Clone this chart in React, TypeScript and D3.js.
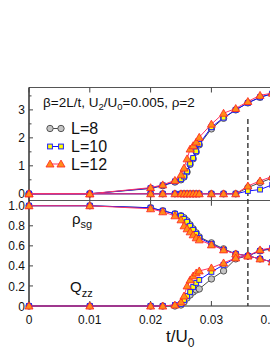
import React, { useEffect, useRef } from 'react';
import * as d3 from 'd3';

// hopping t/U0 values shared by all system sizes
const tVals = [0, 0.01, 0.02, 0.022, 0.024, 0.025, 0.0255, 0.026, 0.0265, 0.027, 0.0275, 0.028, 0.03, 0.032, 0.034, 0.036, 0.038, 0.04];

// top panel, upper curve
const upper8 = [0, 0, 0.19, 0.29, 0.42, 0.5, 0.6, 0.78, 1.05, 1.25, 1.5, 1.75, 2.32, 2.7, 3.0, 3.25, 3.45, 3.58];
const upper10 = [0, 0, 0.2, 0.3, 0.44, 0.52, 0.62, 0.8, 1.08, 1.28, 1.52, 1.78, 2.38, 2.72, 3.0, 3.25, 3.45, 3.58];
const upper12 = [0, 0, 0.22, 0.32, 0.48, 0.68, 0.92, 1.25, 1.6, 1.72, 1.85, 2.02, 2.49, 2.88, 3.05, 3.3, 3.52, 3.6];

// top panel, lower curve
const lower8 = [0, 0, 0, 0, 0, 0, 0, 0, 0, 0, 0, 0, 0, 0, 0, 0.22, 0.4, 0.56];
const lower10 = [0, 0, 0, 0, 0, 0, 0, 0, 0, 0, 0, 0, 0, 0, 0, 0.1, 0.15, 0.32];
const lower12 = [0, 0, 0, 0, 0, 0, 0, 0, 0, 0, 0, 0, 0, 0, 0, 0.28, 0.46, 0.62];

// bottom panel
const rhoSg8 = [1, 1, 0.98, 0.95, 0.92, 0.9, 0.88, 0.85, 0.81, 0.77, 0.73, 0.69, 0.63, 0.57, 0.52, 0.5, 0.47, 0.44];
const rhoSg10 = [1, 1, 0.98, 0.95, 0.92, 0.9, 0.87, 0.84, 0.8, 0.76, 0.72, 0.68, 0.62, 0.56, 0.52, 0.5, 0.47, 0.44];
const rhoSg12 = [1, 1, 0.97, 0.94, 0.9, 0.86, 0.8, 0.77, 0.74, 0.71, 0.68, 0.66, 0.61, 0.56, 0.52, 0.5, 0.47, 0.44];

const qzz8 = [0, 0, 0, 0, 0, 0.01, 0.04, 0.08, 0.11, 0.14, 0.16, 0.17, 0.27, 0.35, 0.47, 0.5, 0.55, 0.57];
const qzz10 = [0, 0, 0, 0, 0.01, 0.02, 0.06, 0.1, 0.14, 0.19, 0.23, 0.26, 0.34, 0.41, 0.48, 0.5, 0.55, 0.58];
const qzz12 = [0, 0, 0, 0, 0.01, 0.04, 0.1, 0.2, 0.26, 0.3, 0.33, 0.35, 0.38, 0.43, 0.48, 0.5, 0.56, 0.58];

const xTicks = [0, 0.01, 0.02, 0.03, 0.04];
const xTickLabels = ['0', '0.01', '0.02', '0.03', '0.04'];
const topTicks = [0, 1, 2, 3];
const topMinor = [0.5, 1.5, 2.5, 3.5];
const botTicks = [0, 0.2, 0.4, 0.6, 0.8, 1.0];
const botTickLabels = ['0', '0.2', '0.4', '0.6', '0.8', '1.0'];
const tCritical = 0.036;

type Marker = 'circle' | 'square' | 'triangle';
interface Series {
  label: string;
  marker: Marker;
  line: string;
  fill: string;
  stroke: string;
  top: number[][];
  bottom: number[][];
}

const series: Series[] = [
  { label: 'L=8', marker: 'circle', line: '#4a4a4a', fill: '#c4c4c4', stroke: '#555555', top: [upper8, lower8], bottom: [rhoSg8, qzz8] },
  { label: 'L=10', marker: 'square', line: '#1010ff', fill: '#ffff00', stroke: '#2020ff', top: [upper10, lower10], bottom: [rhoSg10, qzz10] },
  { label: 'L=12', marker: 'triangle', line: '#ff3366', fill: '#ff8c1a', stroke: '#ff2020', top: [upper12, lower12], bottom: [rhoSg12, qzz12] },
];

const FONT = '"Liberation Sans", Arial, Helvetica, sans-serif';

export default function App() {
  const svgRef = useRef<SVGSVGElement>(null);

  useEffect(() => {
    if (!svgRef.current) return;
    const svg = d3.select(svgRef.current);
    svg.selectAll('*').remove();

    const x = d3.scaleLinear().domain([0, 0.045]).range([29, 29 + 0.045 * 6080]);
    const yTop = d3.scaleLinear().domain([-0.24, 3.8]).range([200.5, 87.5]);
    const yBot = d3.scaleLinear().domain([0, 1.05]).range([306, 200.75]);
    const left = x(0);
    const right = x(0.045);

    const g = svg.append('g').attr('font-family', FONT);

    // frames
    const frame = g.append('g').attr('fill', 'none').attr('stroke', '#555').attr('stroke-width', 1);
    frame.append('line').attr('x1', left).attr('x2', right).attr('y1', yTop(3.8)).attr('y2', yTop(3.8));
    frame.append('line').attr('x1', left).attr('x2', right).attr('y1', yTop(-0.24)).attr('y2', yTop(-0.24));
    frame.append('line').attr('x1', left).attr('x2', right).attr('y1', yBot(0)).attr('y2', yBot(0)).attr('stroke', '#222');
    g.append('line').attr('x1', left).attr('x2', left).attr('y1', yTop(3.8)).attr('y2', yBot(0))
      .attr('stroke', '#111').attr('stroke-width', 1.3);

    // x ticks (inward) on every horizontal border
    const tickG = g.append('g').attr('stroke', '#444').attr('stroke-width', 1);
    xTicks.forEach(t => {
      const xx = x(t);
      tickG.append('line').attr('x1', xx).attr('x2', xx).attr('y1', yTop(3.8)).attr('y2', yTop(3.8) + 5);
      tickG.append('line').attr('x1', xx).attr('x2', xx).attr('y1', yTop(-0.24)).attr('y2', yTop(-0.24) - 5);
      tickG.append('line').attr('x1', xx).attr('x2', xx).attr('y1', yBot(1.05)).attr('y2', yBot(1.05) + 5);
      tickG.append('line').attr('x1', xx).attr('x2', xx).attr('y1', yBot(0)).attr('y2', yBot(0) - 5);
    });
    topTicks.forEach(v => {
      tickG.append('line').attr('x1', left).attr('x2', left + 4).attr('y1', yTop(v)).attr('y2', yTop(v));
    });
    topMinor.forEach(v => {
      tickG.append('line').attr('x1', left).attr('x2', left + 2.5).attr('y1', yTop(v)).attr('y2', yTop(v));
    });
    botTicks.forEach(v => {
      tickG.append('line').attr('x1', left).attr('x2', left + 4).attr('y1', yBot(v)).attr('y2', yBot(v));
    });

    // tick labels
    const lab = g.append('g').attr('font-size', 12).attr('fill', '#111');
    topTicks.forEach(v => {
      lab.append('text').attr('x', left - 4).attr('y', yTop(v)).attr('dy', '0.33em')
        .attr('text-anchor', 'end').text(String(v));
    });
    botTicks.forEach((v, i) => {
      lab.append('text').attr('x', left - 4).attr('y', yBot(v)).attr('dy', '0.38em')
        .attr('text-anchor', 'end').text(botTickLabels[i]);
    });
    xTicks.forEach((t, i) => {
      lab.append('text').attr('x', x(t)).attr('y', 324).attr('text-anchor', 'middle').text(xTickLabels[i]);
    });

    // dashed line at the transition
    g.append('line').attr('x1', x(tCritical)).attr('x2', x(tCritical))
      .attr('y1', 119).attr('y2', yBot(0))
      .attr('stroke', '#333').attr('stroke-width', 1.4).attr('stroke-dasharray', '5,3');

    const drawMarker = (sel: d3.Selection<SVGGElement, unknown, null, undefined>, s: Series, cx: number, cy: number) => {
      if (s.marker === 'circle') {
        sel.append('circle').attr('cx', cx).attr('cy', cy).attr('r', 3.2)
          .attr('fill', s.fill).attr('stroke', s.stroke).attr('stroke-width', 1);
      } else if (s.marker === 'square') {
        sel.append('rect').attr('x', cx - 2.4).attr('y', cy - 2.4).attr('width', 4.8).attr('height', 4.8)
          .attr('fill', s.fill).attr('stroke', s.stroke).attr('stroke-width', 1);
      } else {
        sel.append('path').attr('d', d3.symbol(d3.symbolTriangle, 28)()!)
          .attr('transform', `translate(${cx},${cy + 0.7})`)
          .attr('fill', s.fill).attr('stroke', s.stroke).attr('stroke-width', 0.8);
      }
    };

    const plot = g.append('g');
    series.forEach(s => {
      const curves: [number[], d3.ScaleLinear<number, number>][] = [
        [s.top[0], yTop], [s.top[1], yTop], [s.bottom[0], yBot], [s.bottom[1], yBot],
      ];
      curves.forEach(([vals, ys]) => {
        const pts: [number, number][] = vals.map((v, i) => [x(tVals[i]), ys(v)]);
        plot.append('path').attr('d', d3.line()(pts)!).attr('fill', 'none')
          .attr('stroke', s.line).attr('stroke-width', 1);
        const mg = plot.append('g');
        pts.forEach(([px, py]) => drawMarker(mg, s, px, py));
      });
    });

    // legend
    const legendY = [128.5, 146.5, 164];
    series.forEach((s, i) => {
      const lg = g.append('g');
      lg.append('line').attr('x1', 50).attr('x2', 61).attr('y1', legendY[i]).attr('y2', legendY[i])
        .attr('stroke', s.line).attr('stroke-width', 1);
      drawMarker(lg, s, 50, legendY[i]);
      drawMarker(lg, s, 61, legendY[i]);
      lg.append('text').attr('x', 71).attr('y', legendY[i]).attr('dy', '0.36em')
        .attr('font-size', 16).attr('fill', '#111').text(s.label);
    });

    // parameters line
    const hdr = g.append('text').attr('x', 43).attr('y', 107).attr('font-size', 13.5).attr('fill', '#111');
    hdr.append('tspan').text('β=2L/t, U');
    hdr.append('tspan').attr('font-size', 9.5).attr('dy', 3).text('2');
    hdr.append('tspan').attr('dy', -3).text('/U');
    hdr.append('tspan').attr('font-size', 9.5).attr('dy', 3).text('0');
    hdr.append('tspan').attr('dy', -3).text('=0.005, ρ=2');

    // panel labels
    const rho = g.append('text').attr('x', 72).attr('y', 224).attr('font-size', 15).attr('fill', '#111');
    rho.append('tspan').text('ρ');
    rho.append('tspan').attr('font-size', 11).attr('dy', 4).text('sg');
    const q = g.append('text').attr('x', 70).attr('y', 292).attr('font-size', 15).attr('fill', '#111');
    q.append('tspan').text('Q');
    q.append('tspan').attr('font-size', 11).attr('dy', 5).text('zz');

    // axis title
    const title = g.append('text').attr('x', 166).attr('y', 342).attr('font-size', 17).attr('fill', '#111');
    title.append('tspan').text('t/U');
    title.append('tspan').attr('font-size', 12).attr('dy', 5).text('0');
  }, []);

  return (
    <>
      <style>{'body{margin:0;overflow:hidden}'}</style>
      <svg ref={svgRef} width={270} height={349} style={{ display: 'block', background: '#fff' }} />
    </>
  );
}
